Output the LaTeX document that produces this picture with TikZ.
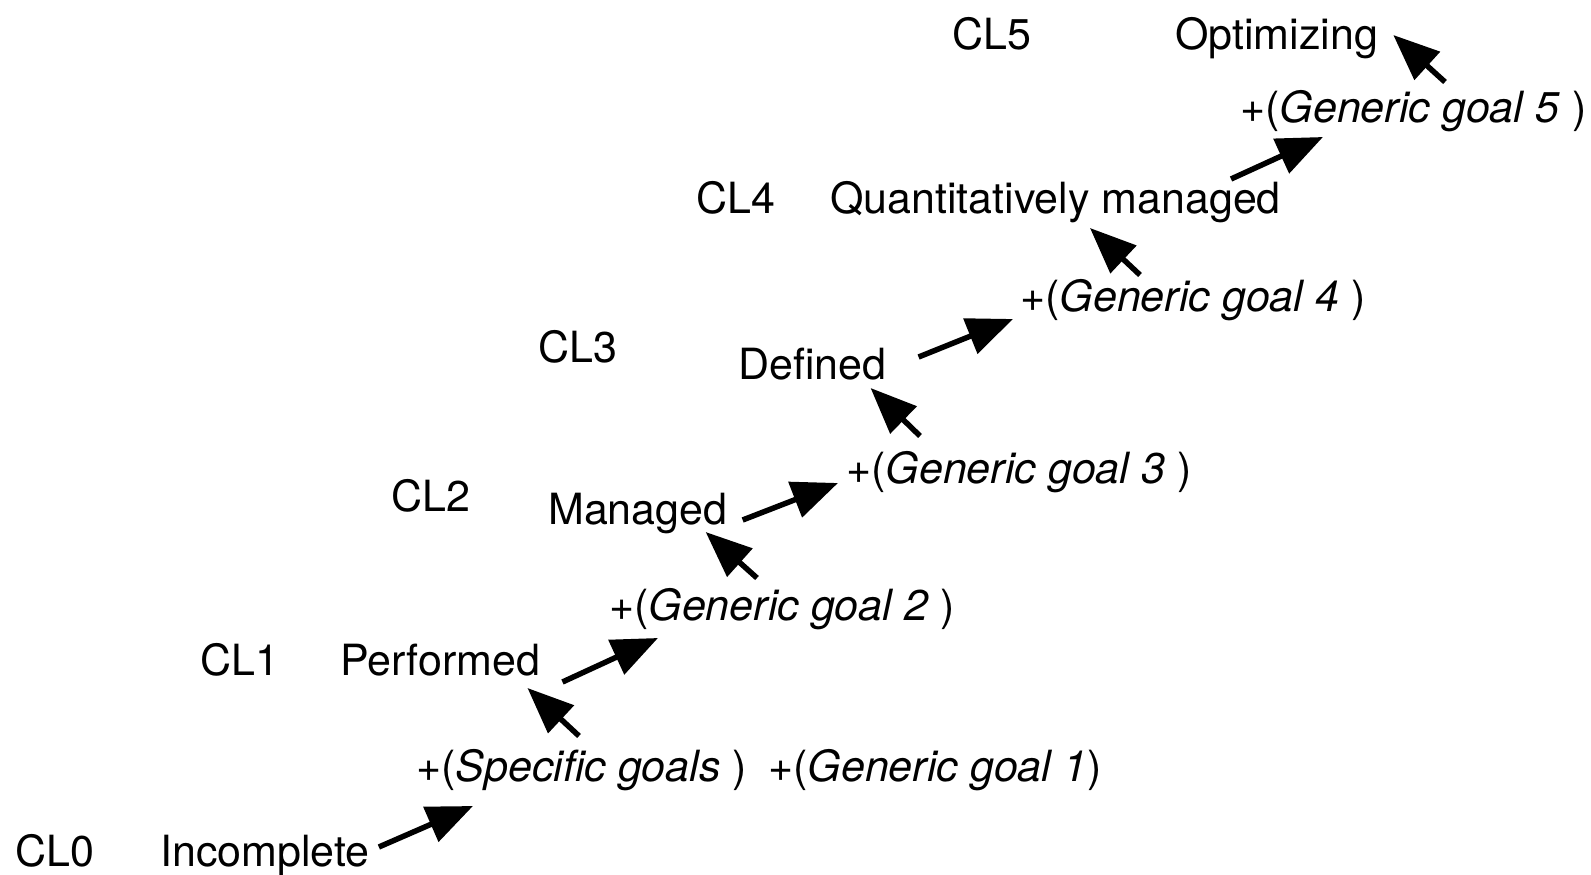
\documentclass[tikz,border=0pt]{standalone}
\usepackage{fontspec}
\setmainfont{TeX Gyre Heros}
\usetikzlibrary{arrows.meta, calc}
\tikzset{
	cnode/.style={inner sep=0pt, anchor=base west, text=black,
		font=\fontsize{43}{50}\selectfont},
	carr/.style={-{Triangle[length=46pt,width=37pt]}, line width=5.5pt, draw=black}
}

\begin{document}
\begin{tikzpicture}[x=1pt, y=-1pt, every node/.style={cnode}]
	\useasboundingbox (0,0) rectangle (1591,875);
	% capability levels
	\node (cl0) at (15,866) {CL0};
	\node (cl1) at (200,675) {CL1};
	\node (cl2) at (391,511) {CL2};
	\node (cl3) at (538,362) {CL3};
	\node (cl4) at (696,213) {CL4};
	\node (cl5) at (952,50) {CL5};
	% stages
	\node (inc) at (160,866) {Incomplete};
	\node (perf) at (340,675) {Performed};
	\node (man) at (548,524) {Managed};
	\node (def) at (738,379) {Defined};
	\node (qm) at (830,213) {Quantitatively managed};
	\node (opt) at (1175,50) {Optimizing};
	% goals
	\node (sg) at (416,781) {+(\textit{Specific goals}\ )};
	\node (gg1) at (768,781) {+(\textit{Generic goal 1})};
	\node (gg2) at (609,620) {+(\textit{Generic goal 2}\ )};
	\node (gg3) at (846,483) {+(\textit{Generic goal 3}\ )};
	\node (gg4) at (1020,311) {+(\textit{Generic goal 4}\ )};
	\node (gg5) at (1240,122) {+(\textit{Generic goal 5}\ )};
	% arrows
	\draw[carr] ($(inc.base east)+(9,-19)$) -- ($(sg.base west)+(57,25)$);
	\draw[carr] ($(sg.base west)+(163,-45)$) -- ($(perf.base east)+(-13,13)$);
	\draw[carr] ($(perf.base east)+(22,7)$) -- ($(gg2.base west)+(49,18)$);
	\draw[carr] ($(gg2.base west)+(148,-42)$) -- ($(man.base east)+(-22,8)$);
	\draw[carr] ($(man.base east)+(15,-4)$) -- ($(gg3.base west)+(-8,0)$);
	\draw[carr] ($(gg3.base west)+(74,-47)$) -- ($(def.base east)+(-16,9)$);
	\draw[carr] ($(def.base east)+(32,-22)$) -- ($(gg4.base west)+(-7,8)$);
	\draw[carr] ($(gg4.base west)+(120,-36)$) -- ($(qm.base west)+(260,15)$);
	\draw[carr] ($(qm.base east)+(-50,-34)$) -- ($(gg5.base west)+(83,15)$);
	\draw[carr] ($(gg5.base west)+(205,-40)$) -- ($(opt.base east)+(15,-15)$);
\end{tikzpicture}
\end{document}
